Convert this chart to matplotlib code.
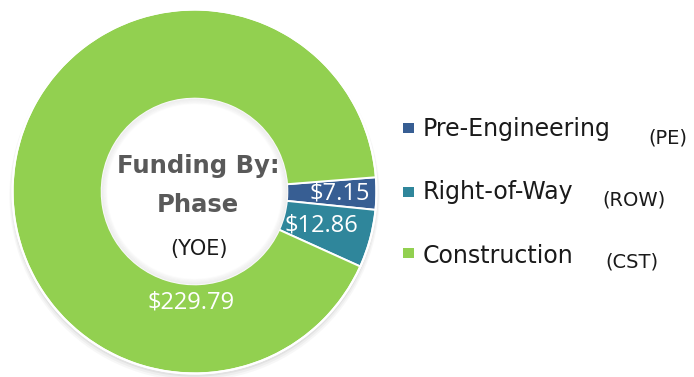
import numpy as np
import matplotlib.pyplot as plt
from matplotlib.patches import Circle, Rectangle

# funding by phase, $M (year of expenditure)
phases = ['Pre-Engineering', 'Right-of-Way', 'Construction']
codes = ['(PE)', '(ROW)', '(CST)']
amounts = [7.15, 12.86, 229.79]
colors = ['#375E93', '#2F869B', '#92D050']

W, H = 694, 377
fig = plt.figure(figsize=(W / 100, H / 100), dpi=100)

cx, cy, R = 194.5, 191.5, 182
ax = fig.add_axes([(cx - R) / W, (H - cy - R) / H, 2 * R / W, 2 * R / H])

# overlay in pixel coordinates for the legend and the centre title, on top of the ring
ov = fig.add_axes([0, 0, 1, 1])
ov.set_xlim(0, W)
ov.set_ylim(H, 0)
ov.axis('off')
ov.set_zorder(5)

# soft shadow under the ring
for i, a in enumerate([0.10, 0.08, 0.06]):
    ax.add_patch(Circle((0, -0.012 - 0.006 * i), 1.005 + 0.006 * i, color='#808080',
                        alpha=a, lw=0, clip_on=False, zorder=0))
ax.add_patch(Circle((0, 0), 0.52, color='white', lw=0, zorder=1))

wedges, _ = ax.pie(amounts, colors=colors, startangle=4.5, counterclock=False,
                   radius=1, wedgeprops=dict(width=0.49, edgecolor='white', linewidth=1.4))
for w in wedges:
    w.set_zorder(2)
ax.add_patch(Circle((0, 0), 1.0, fill=False, ec='white', lw=1.6, zorder=3, clip_on=False))

# faint inner shading of the hole
for i in range(5):
    ax.add_patch(Circle((0, 0), 0.508 - 0.006 * i, fill=False, ec='#c8c8c8',
                        lw=1.2, alpha=0.22 - 0.04 * i, zorder=3))

ax.set_xlim(-1, 1)
ax.set_ylim(-1, 1)

# value labels: (angle, radius); None angle = middle of the slice
label_pos = [(None, 0.80), (None, 0.72), (-92, 0.61)]
for w, v, (a, r) in zip(wedges, amounts, label_pos):
    if a is None:
        a = (w.theta1 + w.theta2) / 2
    ang = np.deg2rad(a)
    ax.text(r * np.cos(ang), r * np.sin(ang), f'${v:.2f}', color='white',
            fontsize=17, family='Open Sans', ha='center', va='center', zorder=5)

# centre title
ov.text(198, 173, 'Funding By:', fontsize=17.5, fontweight='bold', color='#595959',
        family='DejaVu Sans', ha='center', va='baseline')
ov.text(198, 212, 'Phase', fontsize=17.5, fontweight='bold', color='#595959',
        family='DejaVu Sans', ha='center', va='baseline')
ov.text(199, 255, '(YOE)', fontsize=15, color='#1a1a1a',
        family='DejaVu Sans', ha='center', va='baseline')

# legend
sq_y = [123, 187, 248]
txt_y = [136, 199, 263]
code_x = [648, 602, 605]
code_y = [143, 206, 267]
for i, name in enumerate(phases):
    ov.add_patch(Rectangle((403, sq_y[i]), 11, 10, color=colors[i], lw=0))
    ov.text(423, txt_y[i], name, fontsize=17, color='#1a1a1a',
            family='DejaVu Sans', ha='left', va='baseline')
    ov.text(code_x[i], code_y[i], codes[i], fontsize=14, color='#1a1a1a',
            family='DejaVu Sans', ha='left', va='baseline')

fig.savefig('out.png', dpi=100)
